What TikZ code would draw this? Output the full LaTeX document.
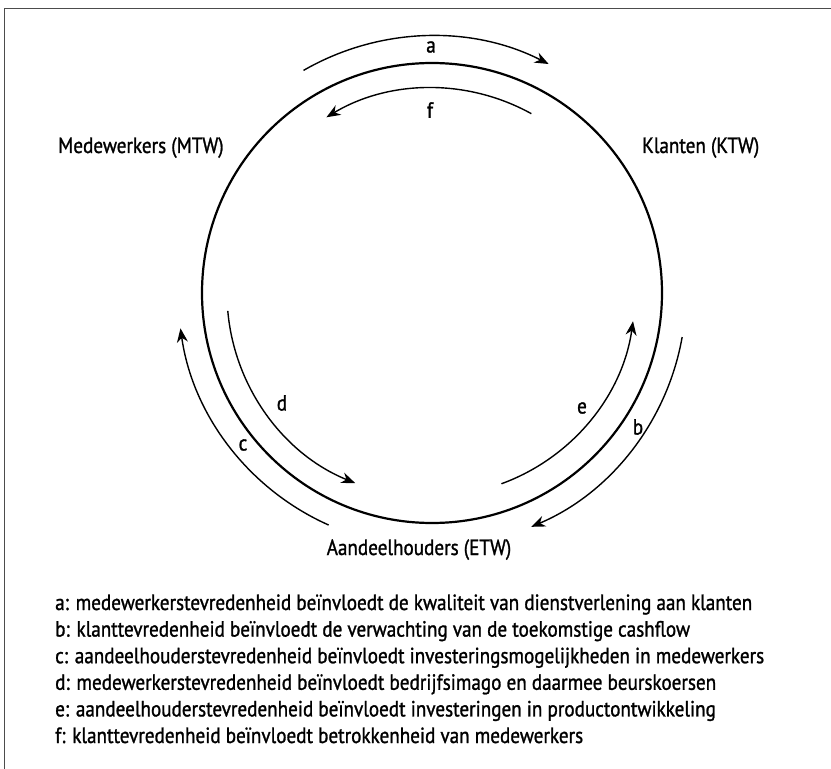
\documentclass[tikz,border=0pt]{standalone}
\usepackage{fontspec}
\setmainfont{PT Sans}[FakeStretch=0.87, FakeBold=1.2]
\usetikzlibrary{arrows.meta}

\begin{document}
\begin{tikzpicture}[
    x=1pt, y=1pt,
    font=\fontsize{22}{26}\selectfont,
    frame/.style={draw=black!70, line width=1pt},
    ring/.style={circle, draw, line width=2.2pt, minimum size=460pt, inner sep=0pt},
    party/.style={inner sep=0pt, anchor=base west},
    flow/.style={-{Stealth[length=14pt, width=11pt]}, line width=1.4pt},
    tag/.style={inner sep=0pt},
    legend/.style={inner sep=0pt, anchor=base west}
]
\useasboundingbox (-432,-476) rectangle (399,293);

% Frame
\draw[frame] (-427,-476) -- (-427,284.5) -- (399,284.5);

% Cycle
\node[ring] (cycle) at (0,0) {};

% Stakeholders
\node[party] (mtw) at (-374,140) {Medewerkers (MTW)};
\node[party] (ktw) at (210,140) {Klanten (KTW)};
\node[tag, anchor=base] (etw) at (-13,-262) {Aandeelhouders (ETW)};

% Flows
\coordinate (aStart) at (120:257);
\coordinate (fStart) at (61:205);
\coordinate (dStart) at (185:205);
\coordinate (cStart) at (246:254);
\coordinate (eStart) at (290:203);
\coordinate (bStart) at (350:254);
\draw[flow] (aStart) arc[start angle=120, end angle=63, radius=257];
\draw[flow] (fStart) arc[start angle=61, end angle=121, radius=205];
\draw[flow] (dStart) arc[start angle=185, end angle=248, radius=205];
\draw[flow] (cStart) arc[start angle=246, end angle=188, radius=254];
\draw[flow] (eStart) arc[start angle=290, end angle=352, radius=203];
\draw[flow] (bStart) arc[start angle=350, end angle=293, radius=254];

% Labels on flows
\node[tag] (aTag) at (-1,246) {a};
\node[tag] (fTag) at (-2,183) {f};
\node[tag] (dTag) at (-150,-110) {d};
\node[tag] (cTag) at (-189,-152) {c};
\node[tag] (eTag) at (150,-115) {e};
\node[tag] (bTag) at (206,-134) {b};

% Legend
\node[legend] (la) at (-377,-317) {a: medewerkerstevredenheid beïnvloedt de kwaliteit van dienstverlening aan klanten};
\node[legend] (lb) at (-377,-343.6) {b: klanttevredenheid beïnvloedt de verwachting van de toekomstige cashflow};
\node[legend] (lc) at (-377,-370.2) {c: aandeelhouderstevredenheid beïnvloedt investeringsmogelijkheden in medewerkers};
\node[legend] (ld) at (-377,-396.8) {d: medewerkerstevredenheid beïnvloedt bedrijfsimago en daarmee beurskoersen};
\node[legend] (le) at (-377,-423.4) {e: aandeelhouderstevredenheid beïnvloedt investeringen in productontwikkeling};
\node[legend] (lf) at (-377,-450) {f: klanttevredenheid beïnvloedt betrokkenheid van medewerkers};

\end{tikzpicture}
\end{document}
